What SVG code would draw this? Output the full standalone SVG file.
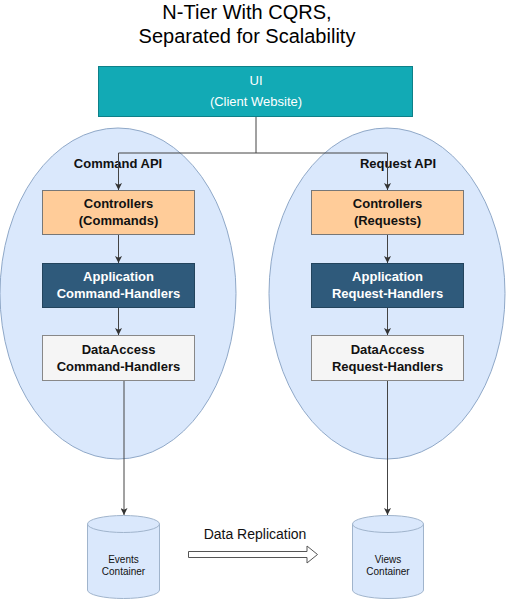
<svg xmlns="http://www.w3.org/2000/svg" width="506" height="600" viewBox="0 0 506 600">
<defs>
<marker id="ah" viewBox="0 0 10 10" refX="10" refY="5" markerWidth="7" markerHeight="7" orient="auto" markerUnits="userSpaceOnUse">
<path d="M0,0 L10,5 L0,10 L2.5,5 Z" fill="#333"/>
</marker>
<style>
text{font-family:"Liberation Sans",Arial,Helvetica,sans-serif;text-anchor:middle}
.title{font-size:20px;fill:#000}
.b{font-size:13px;font-weight:bold;fill:#111}
.w{fill:#fff}
.s{font-size:10px;fill:#111}
.api{fill:#dae8fc;stroke:#8fa8c8;stroke-width:1}
.ctl{fill:#ffcc99;stroke:#777;stroke-width:1}
.app{fill:#2f5a7b;stroke:#23445d;stroke-width:1}
.da{fill:#f5f5f5;stroke:#888;stroke-width:1}
.cyl{fill:#dae8fc;stroke:#a0b4cc;stroke-width:1}
.c{fill:none;stroke:#444;stroke-width:1}
</style>
</defs>
<rect width="506" height="600" fill="#fff"/>
<g id="title">
<text class="title" x="247" y="19">N-Tier With CQRS,</text>
<text class="title" x="247" y="43">Separated for Scalability</text>
</g>
<g id="command-api">
<ellipse class="api" cx="118" cy="293.5" rx="118" ry="165.5"/>
<text class="b" x="118" y="168">Command API</text>
</g>
<g id="request-api">
<ellipse class="api" cx="387" cy="293.5" rx="118" ry="165.5"/>
<text class="b" x="398" y="168">Request API</text>
</g>
<g id="ui">
<rect x="98.5" y="66.5" width="314" height="50" fill="#12aab5" stroke="#0e8088"/>
<text x="256" y="85" font-size="13" class="w">UI</text>
<text x="256" y="106" font-size="13" class="w">(Client Website)</text>
</g>
<g id="controllers-commands">
<rect class="ctl" x="42.5" y="190.5" width="152" height="44"/>
<text class="b" x="118.5" y="208">Controllers</text>
<text class="b" x="118.5" y="225">(Commands)</text>
</g>
<g id="app-command-handlers">
<rect class="app" x="42.5" y="263.5" width="152" height="44"/>
<text class="b w" x="118.5" y="281">Application</text>
<text class="b w" x="118.5" y="298">Command-Handlers</text>
</g>
<g id="da-command-handlers">
<rect class="da" x="42.5" y="335.5" width="152" height="45"/>
<text class="b" x="118.5" y="353.5">DataAccess</text>
<text class="b" x="118.5" y="370.5">Command-Handlers</text>
</g>
<g id="controllers-requests">
<rect class="ctl" x="311.5" y="190.5" width="152" height="44"/>
<text class="b" x="387.5" y="208">Controllers</text>
<text class="b" x="387.5" y="225">(Requests)</text>
</g>
<g id="app-request-handlers">
<rect class="app" x="311.5" y="263.5" width="152" height="44"/>
<text class="b w" x="387.5" y="281">Application</text>
<text class="b w" x="387.5" y="298">Request-Handlers</text>
</g>
<g id="da-request-handlers">
<rect class="da" x="311.5" y="335.5" width="152" height="45"/>
<text class="b" x="387.5" y="353.5">DataAccess</text>
<text class="b" x="387.5" y="370.5">Request-Handlers</text>
</g>
<g id="events-container">
<path class="cyl" d="M87.5,524 L87.5,590 A36,8.5 0 0 0 159.5,590 L159.5,524 A36,8.5 0 0 0 87.5,524 Z"/>
<path class="cyl" fill="none" d="M87.5,524 A36,8.5 0 0 0 159.5,524"/>
<text class="s" x="123.5" y="562.5">Events</text>
<text class="s" x="123.5" y="575">Container</text>
</g>
<g id="views-container">
<path class="cyl" d="M352.5,524 L352.5,590 A35.5,8.5 0 0 0 423.5,590 L423.5,524 A35.5,8.5 0 0 0 352.5,524 Z"/>
<path class="cyl" fill="none" d="M352.5,524 A35.5,8.5 0 0 0 423.5,524"/>
<text class="s" x="388" y="562.5">Views</text>
<text class="s" x="388" y="575">Container</text>
</g>
<g id="connectors">
<path class="c" d="M256,117 V153 H118.5 V190" marker-end="url(#ah)"/>
<path class="c" d="M256,153 H387.5 V190" marker-end="url(#ah)"/>
<path class="c" d="M118.5,235 V263" marker-end="url(#ah)"/>
<path class="c" d="M118.5,308 V335" marker-end="url(#ah)"/>
<path class="c" d="M387.5,235 V263" marker-end="url(#ah)"/>
<path class="c" d="M387.5,308 V335" marker-end="url(#ah)"/>
<path class="c" d="M124,381 V515" marker-end="url(#ah)"/>
<path class="c" d="M387.5,381 V515" marker-end="url(#ah)"/>
<path d="M188.5,551.5 H307 V546 L317.5,554.5 L307,563 V557.5 H188.5 Z" fill="#fff" stroke="#555" stroke-width="1"/>
<text x="255" y="539" font-size="14" fill="#111">Data Replication</text>
</g>
</svg>
